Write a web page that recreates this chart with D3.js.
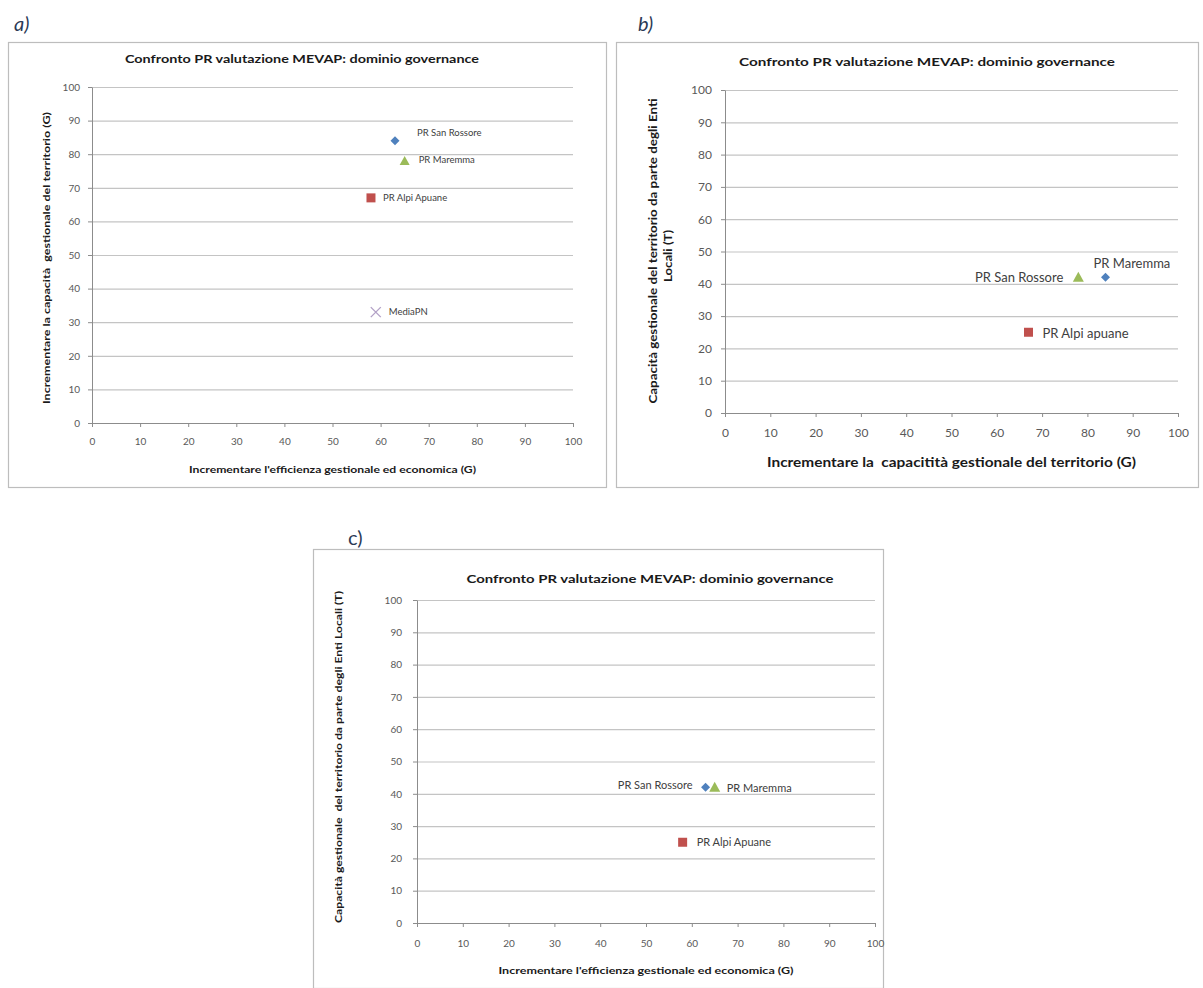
<!DOCTYPE html>
<html>
<head>
<meta charset="utf-8">
<script src="https://cdn.jsdelivr.net/npm/d3@7/dist/d3.min.js"></script>
<style>
  html, body { margin: 0; padding: 0; background: #ffffff; }
  svg { display: block; font-family: Lato, "Open Sans", "DejaVu Sans", sans-serif; }
  svg text { white-space: pre; }
</style>
</head>
<body>
<svg id="chart" width="1203" height="988"></svg>
<script>
// Shared axis ticks
const xTicks = [0, 10, 20, 30, 40, 50, 60, 70, 80, 90, 100];
const yTicks = [0, 10, 20, 30, 40, 50, 60, 70, 80, 90, 100];

const chartTitle = "Confronto PR valutazione MEVAP: dominio governance";

// Panel a)
const aNames  = ["PR San Rossore", "PR Maremma", "PR Alpi Apuane", "MediaPN"];
const aX      = [63, 65, 58, 59];
const aY      = [84, 78, 67, 33];
const aShapes = ["diamond", "triangle", "square", "cross"];

// Panel b)
const bNames  = ["PR San Rossore", "PR Maremma", "PR Alpi apuane"];
const bX      = [78, 84, 67];
const bY      = [42, 42, 25];
const bShapes = ["triangle", "diamond", "square"];

// Panel c)
const cNames  = ["PR San Rossore", "PR Maremma", "PR Alpi Apuane"];
const cX      = [63, 65, 58];
const cY      = [42, 42, 25];
const cShapes = ["diamond", "triangle", "square"];

const shapeColor = {
  diamond: "#4f81bd",
  square: "#c0504d",
  triangle: "#9bbb59",
  cross: "#b3a2c7"
};

const svg = d3.select("#chart");

// marker outline for a given shape, centred on (0,0)
function markerPath(shape, r) {
  if (shape === "diamond") return `M0,${-r}L${r},0L0,${r}L${-r},0Z`;
  if (shape === "square") return `M${-r},${-r}H${r}V${r}H${-r}Z`;
  if (shape === "triangle") return `M0,${-r}L${r},${r * 0.8}L${-r},${r * 0.8}Z`;
  return `M${-r},${-r}L${r},${r}M${-r},${r}L${r},${-r}`;
}

function addText(sel, str, len) {
  sel.text(str);
  if (len) sel.attr("textLength", len).attr("lengthAdjust", "spacingAndGlyphs");
  return sel;
}

function drawPanel(p) {
  // outer frame
  svg.append("rect")
    .attr("x", p.box[0] + 0.5).attr("y", p.box[1] + 0.5)
    .attr("width", p.box[2] - p.box[0]).attr("height", p.box[3] - p.box[1])
    .attr("fill", "#fff").attr("stroke", "#bdbdbd").attr("stroke-width", 1.2);

  // panel letter
  svg.append("text")
    .attr("x", p.letterPos[0]).attr("y", p.letterPos[1])
    .attr("font-size", 20).attr("font-style", p.letterItalic ? "italic" : "normal")
    .attr("fill", "#2b3a55")
    .text(p.letter);

  const x = d3.scaleLinear().domain([0, 100]).range([p.plot[0], p.plot[1]]);
  const y = d3.scaleLinear().domain([0, 100]).range([p.plot[3], p.plot[2]]);

  // title
  addText(svg.append("text")
    .attr("x", p.titlePos[0]).attr("y", p.titlePos[1])
    .attr("text-anchor", "middle").attr("font-weight", "bold")
    .attr("font-size", p.titleSize).attr("fill", "#1a1a1a"), chartTitle, p.titleLen);

  // horizontal gridlines
  svg.append("g")
    .attr("transform", `translate(${p.plot[0]},0)`)
    .call(d3.axisLeft(y).tickValues(yTicks.filter(v => v > 0)).tickSize(-(p.plot[1] - p.plot[0])).tickFormat(""))
    .call(g => g.select(".domain").remove())
    .call(g => g.selectAll("line").attr("stroke", "#c4c4c4").attr("stroke-width", 1.2));

  // y axis
  svg.append("g")
    .attr("transform", `translate(${p.plot[0]},0)`)
    .call(d3.axisLeft(y).tickValues(yTicks).tickSize(4).tickPadding(p.tickPad).tickSizeOuter(0))
    .call(g => g.select(".domain").attr("stroke", "#8c8c8c"))
    .call(g => g.selectAll("line").attr("stroke", "#8c8c8c"))
    .call(g => g.selectAll("text").attr("font-size", p.tickSize).attr("fill", "#595959").attr("font-family", "Lato, sans-serif"));

  // x axis
  svg.append("g")
    .attr("transform", `translate(0,${p.plot[3]})`)
    .call(d3.axisBottom(x).tickValues(xTicks).tickSize(4).tickPadding(p.tickPadX).tickSizeOuter(0))
    .call(g => g.select(".domain").attr("stroke", "#8c8c8c"))
    .call(g => g.selectAll("line").attr("stroke", "#8c8c8c"))
    .call(g => g.selectAll("text").attr("font-size", p.tickSize).attr("fill", "#595959").attr("font-family", "Lato, sans-serif"));

  // x axis title
  addText(svg.append("text")
    .attr("x", (p.plot[0] + p.plot[1]) / 2).attr("y", p.xLabelY)
    .attr("text-anchor", "middle").attr("font-weight", "bold")
    .attr("font-size", p.xLabelSize).attr("fill", "#1a1a1a"), p.xLabel, p.xLabelLen);

  // y axis title (one or more lines, rotated)
  p.yLabel.forEach((line, i) => {
    addText(svg.append("text")
      .attr("transform", `translate(${p.yLabelX[i]},${p.yLabelCY[i]}) rotate(-90)`)
      .attr("text-anchor", "middle").attr("font-weight", "bold")
      .attr("font-size", p.yLabelSize).attr("fill", "#1a1a1a"), line, p.yLabelLen[i]);
  });

  // points and their labels
  const pts = p.names.map((n, i) => ({ name: n, x: p.xs[i], y: p.ys[i], shape: p.shapes[i], lab: p.labels[i] }));
  const g = svg.append("g");
  pts.forEach(d => {
    const px = x(d.x), py = y(d.y);
    const col = shapeColor[d.shape];
    const path = g.append("path")
      .attr("transform", `translate(${px},${py})`)
      .attr("d", markerPath(d.shape, d.shape === "cross" ? 5 : p.markR[d.shape]));
    if (d.shape === "cross") path.attr("stroke", col).attr("stroke-width", 1.4).attr("fill", "none");
    else path.attr("fill", col);
    g.append("text")
      .attr("x", px + d.lab[0]).attr("y", py + d.lab[1])
      .attr("text-anchor", d.lab[2])
      .attr("dominant-baseline", "middle")
      .attr("font-size", p.pointLabelSize).attr("fill", "#404040")
      .text(d.name);
  });
}

drawPanel({
  box: [8, 42, 606, 487],
  letter: "a)", letterPos: [14, 31], letterItalic: true,
  plot: [92, 573, 87, 423],
  titlePos: [302, 63], titleSize: 11, titleLen: 354,
  tickSize: 10, tickPad: 8, tickPadX: 11,
  xLabel: "Incrementare l'efficienza gestionale ed economica (G)", xLabelY: 473, xLabelSize: 9.5, xLabelLen: 287,
  yLabel: ["Incrementare la capacità  gestionale del territorio (G)"], yLabelX: [50], yLabelCY: [258], yLabelLen: [292], yLabelSize: 9.5,
  names: aNames, xs: aX, ys: aY, shapes: aShapes,
  labels: [[22, -7, "start"], [14, 0, "start"], [12, 1, "start"], [13, 0, "start"]],
  pointLabelSize: 9.5, markR: { diamond: 4.5, square: 4.5, triangle: 5 }
});

drawPanel({
  box: [616, 42, 1198, 487],
  letter: "b)", letterPos: [638, 31], letterItalic: true,
  plot: [725, 1178, 90, 413],
  titlePos: [927, 66], titleSize: 12, titleLen: 376,
  tickSize: 12, tickPad: 9, tickPadX: 11,
  xLabel: "Incrementare la  capacitità gestionale del territorio (G)", xLabelY: 467, xLabelSize: 12.5, xLabelLen: 369,
  yLabel: ["Capacità gestionale del territorio da parte degli Enti", "Locali (T)"], yLabelX: [657, 672], yLabelCY: [251, 256], yLabelLen: [305, 52], yLabelSize: 12,
  names: bNames, xs: bX, ys: bY, shapes: bShapes,
  labels: [[-15, 1, "end"], [-12, -13, "start"], [14, 2, "start"]],
  pointLabelSize: 13, markR: { diamond: 4.5, square: 4.5, triangle: 5.5 }
});

drawPanel({
  box: [313, 549, 883, 988],
  letter: "c)", letterPos: [348, 545], letterItalic: false,
  plot: [417, 875, 600, 923],
  titlePos: [650, 583], titleSize: 12, titleLen: 367,
  tickSize: 10, tickPad: 11, tickPadX: 13,
  xLabel: "Incrementare l'efficienza gestionale ed economica (G)", xLabelY: 974, xLabelSize: 9.5, xLabelLen: 295,
  yLabel: ["Capacità gestionale  del territorio da parte degli Enti Locali (T)"], yLabelX: [342], yLabelCY: [757], yLabelLen: [332], yLabelSize: 9.5,
  names: cNames, xs: cX, ys: cY, shapes: cShapes,
  labels: [[-13, -1, "end"], [12, 2, "start"], [14, 1, "start"]],
  pointLabelSize: 11, markR: { diamond: 4.5, square: 4.5, triangle: 5.5 }
});
</script>
</body>
</html>
